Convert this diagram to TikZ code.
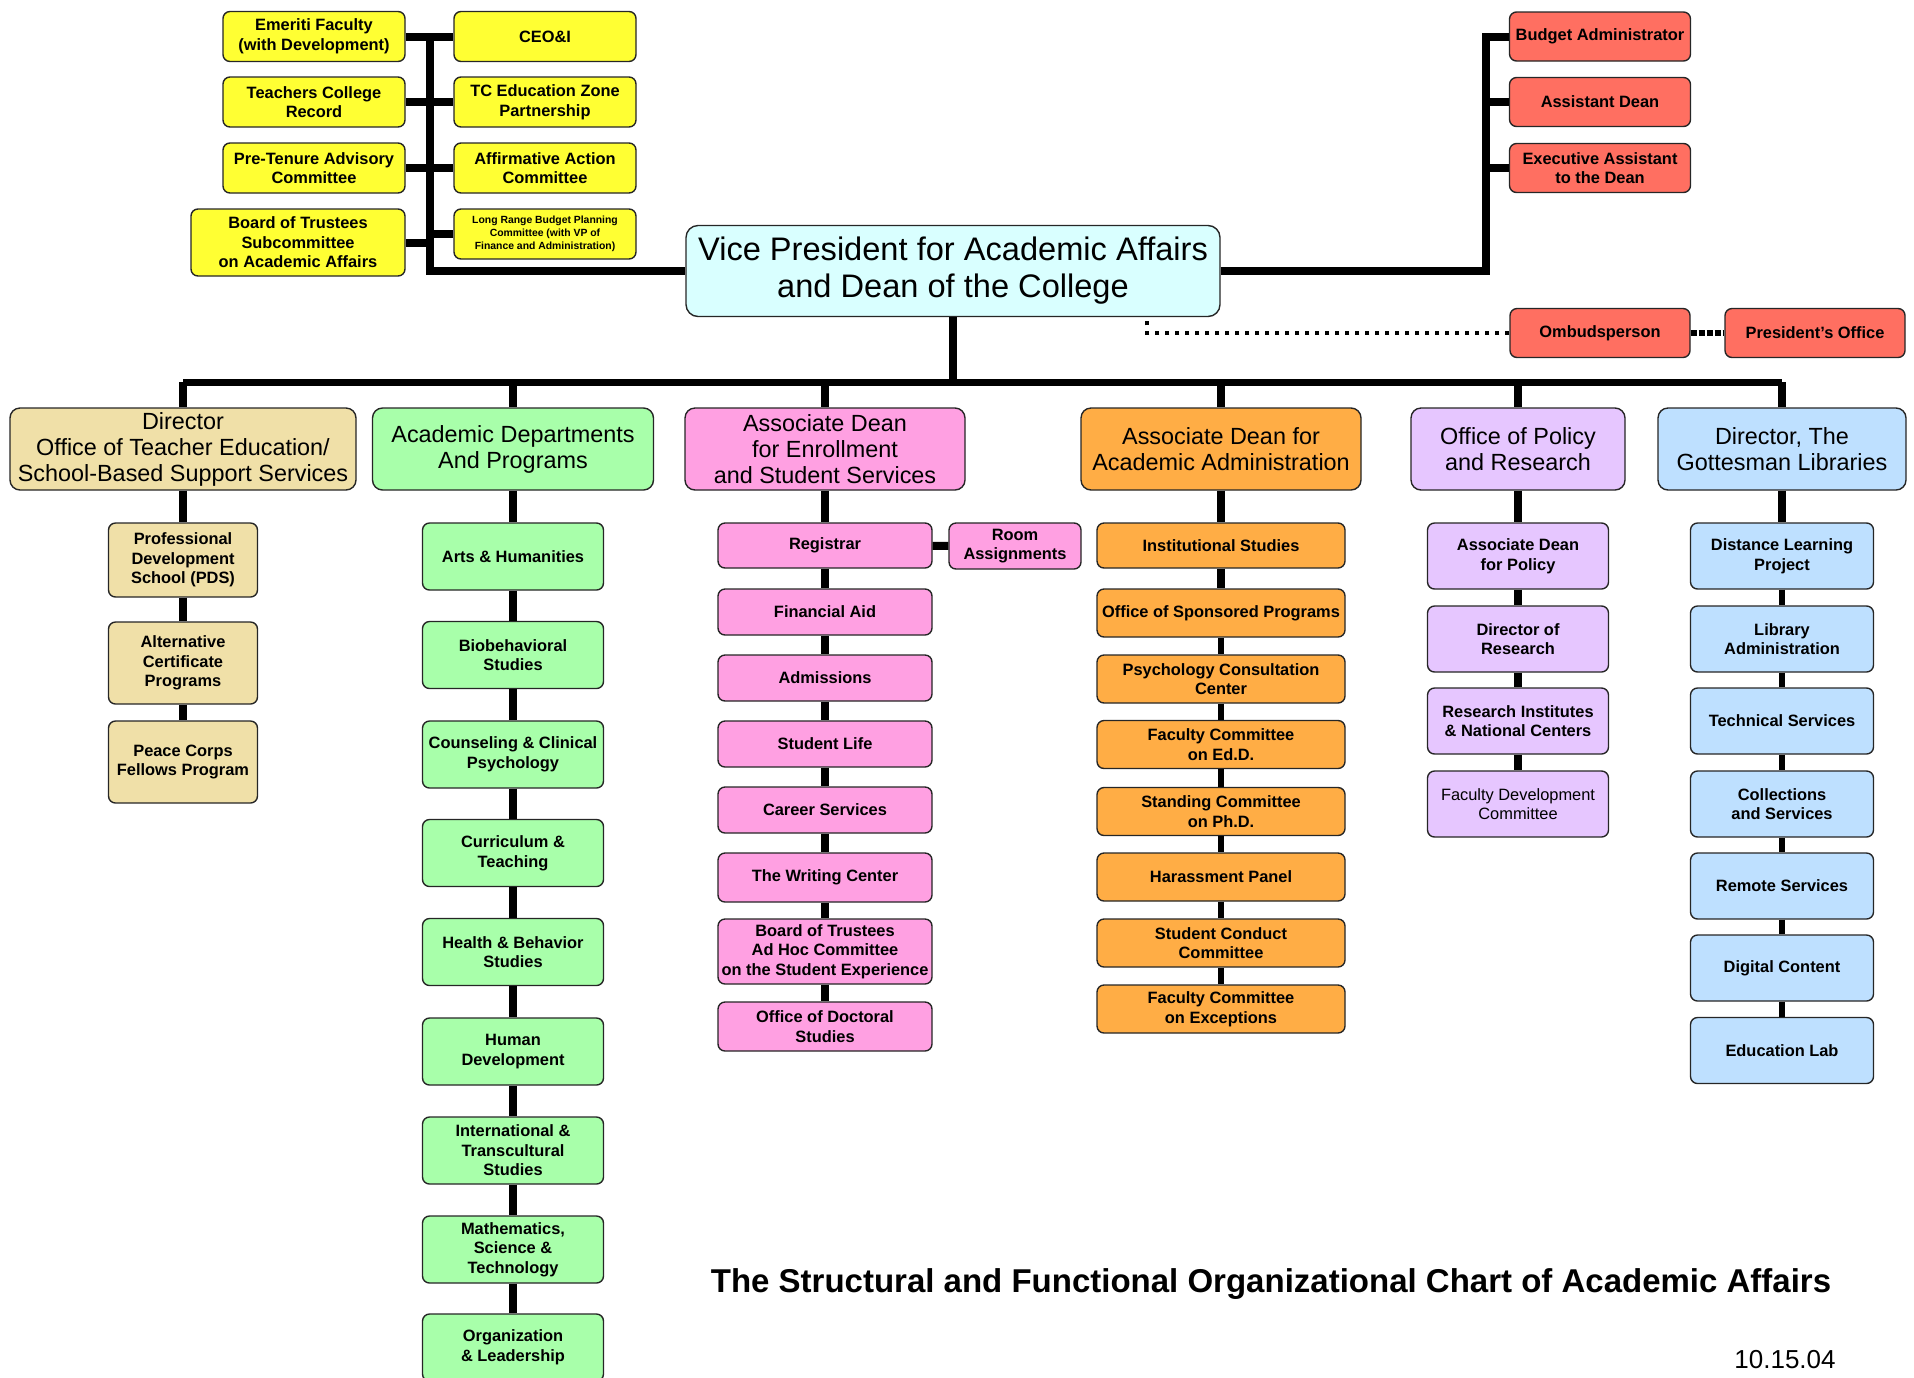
\documentclass[tikz,border=0pt]{standalone}
\usepackage{fontspec}
\setmainfont{Liberation Sans}
\usetikzlibrary{positioning}
\definecolor{boxyellow}{HTML}{FFFF33}
\definecolor{boxred}{HTML}{FF6F61}
\definecolor{boxcyan}{HTML}{D9FFFF}
\definecolor{boxtan}{HTML}{F0E0A8}
\definecolor{boxgreen}{HTML}{A8FFAA}
\definecolor{boxpink}{HTML}{FFA0E2}
\definecolor{boxorange}{HTML}{FFAD45}
\definecolor{boxpurple}{HTML}{E6C6FF}
\definecolor{boxblue}{HTML}{BEE0FF}

\begin{document}
\begin{tikzpicture}[x=0.5pt, y=-0.5pt,
    box/.style = {draw=black!85, line width=0.7pt, rounded corners=3.5pt, align=center,
      inner sep=1pt, font=\fontsize{8.2}{9.8}\selectfont\bfseries},
    head/.style = {box, rounded corners=5pt, minimum height=41pt, font=\fontsize{11.7}{13}\selectfont},
    yelbox/.style = {box, fill=boxyellow, minimum width=91pt, minimum height=25pt},
    redbox/.style = {box, fill=boxred, minimum width=90.5pt, minimum height=24.5pt},
    tanbox/.style = {box, fill=boxtan, minimum width=74.5pt, minimum height=41pt},
    grnbox/.style = {box, fill=boxgreen, minimum width=90.5pt, minimum height=33.5pt},
    pnkbox/.style = {box, fill=boxpink, minimum width=107pt, minimum height=23pt},
    orgbox/.style = {box, fill=boxorange, minimum width=124pt, minimum height=24pt},
    purbox/.style = {box, fill=boxpurple, minimum width=90.5pt, minimum height=33pt},
    blubox/.style = {box, fill=boxblue, minimum width=91.5pt, minimum height=33pt},
    link/.style = {line width=4pt},
    thinlink/.style = {line width=2.6pt},
    dotlink/.style = {line width=1.8pt, dash pattern=on 2pt off 3pt}]

    \useasboundingbox (0,0) rectangle (1914,1377);
    \clip (0,0) rectangle (1914,1377);

    % committees reporting to the VP
    \node[yelbox] (emeriti) at (314,36.5) {Emeriti Faculty\\(with Development)};
    \node[yelbox] (ceoi) at (545,36.5) {CEO\&I};
    \node[yelbox] (tcrecord) at (314,102) {Teachers College\\Record};
    \node[yelbox] (tczone) at (545,102) {TC Education Zone\\Partnership};
    \node[yelbox] (pretenure) at (314,168) {Pre-Tenure Advisory\\Committee};
    \node[yelbox] (affirm) at (545,168) {Affirmative Action\\Committee};
    \node[yelbox, minimum width=107pt, minimum height=33.5pt] (botsub) at (298,242.5) {Board of Trustees\\Subcommittee\\on Academic Affairs};
    \node[yelbox, font=\fontsize{5.2}{6.5}\selectfont\bfseries] (lrbudget) at (545,234) {Long Range Budget Planning\\Committee (with VP of\\Finance and Administration)};

    \node[box, fill=boxcyan, rounded corners=6pt, minimum width=267pt, minimum height=45.5pt,
      font=\fontsize{16.3}{18.5}\selectfont] (vp) at (953,271) {Vice President for Academic Affairs\\and Dean of the College};

    % staff
    \node[redbox] (budget) at (1600,36.5) {Budget Administrator};
    \node[redbox] (asstdean) at (1600,102) {Assistant Dean};
    \node[redbox] (execasst) at (1600,168) {Executive Assistant\\to the Dean};
    \node[redbox, minimum width=90pt] (ombud) at (1600,333) {Ombudsperson};
    \node[redbox, minimum width=90pt] (presoff) at (1815,333) {President's Office};

    \coordinate (ytop) at (430,36.5);
    \coordinate (ybot) at (430,271);
    \coordinate (rtop) at (1486,36.5);
    \coordinate (rbot) at (1486,271);
    \coordinate (dotc) at (1147,333);
    \coordinate (bus) at (953,382);

    % second level
    \node[head, fill=boxtan, minimum width=173pt] (tanhead) at (183,449) {Director\\Office of Teacher Education/\\School-Based Support Services};
    \node[head, fill=boxgreen, minimum width=140.5pt] (greenhead) at (513,449) {Academic Departments\\And Programs};
    \node[head, fill=boxpink, minimum width=140pt] (pinkhead) at (825,449) {Associate Dean\\for Enrollment\\and Student Services};
    \node[head, fill=boxorange, minimum width=140pt] (orangehead) at (1221,449) {Associate Dean for\\Academic Administration};
    \node[head, fill=boxpurple, minimum width=107pt] (purplehead) at (1518,449) {Office of Policy\\and Research};
    \node[head, fill=boxblue, minimum width=124pt] (bluehead) at (1782,449) {Director, The\\Gottesman Libraries};

    % teacher education
    \node[tanbox, minimum height=37pt] (pds) at (183,560) {Professional\\Development\\School (PDS)};
    \node[tanbox] (altcert) at (183,663) {Alternative\\Certificate\\Programs};
    \node[tanbox] (peace) at (183,762) {Peace Corps\\Fellows Program};

    % departments
    \node[grnbox] (arts) at (513,556.5) {Arts \& Humanities};
    \node[grnbox] (biobeh) at (513,655) {Biobehavioral\\Studies};
    \node[grnbox] (counsel) at (513,754.5) {Counseling \& Clinical\\Psychology};
    \node[grnbox] (curric) at (513,853) {Curriculum \&\\Teaching};
    \node[grnbox] (health) at (513,952) {Health \& Behavior\\Studies};
    \node[grnbox] (humandev) at (513,1051.5) {Human\\Development};
    \node[grnbox] (intl) at (513,1150.5) {International \&\\Transcultural\\Studies};
    \node[grnbox] (math) at (513,1249.5) {Mathematics,\\Science \&\\Technology};
    \node[grnbox] (orgl) at (513,1347.5) {Organization\\\& Leadership};

    % enrollment
    \node[pnkbox, minimum height=22.5pt] (registrar) at (825,545.5) {Registrar};
    \node[pnkbox, minimum width=66pt] (room) at (1015,546) {Room\\Assignments};
    \node[pnkbox] (finaid) at (825,612) {Financial Aid};
    \node[pnkbox] (admiss) at (825,678) {Admissions};
    \node[pnkbox] (stulife) at (825,744) {Student Life};
    \node[pnkbox] (career) at (825,810) {Career Services};
    \node[pnkbox, minimum height=24.5pt] (writing) at (825,877.5) {The Writing Center};
    \node[pnkbox, minimum height=32.5pt] (bothoc) at (825,951.5) {Board of Trustees\\Ad Hoc Committee\\on the Student Experience};
    \node[pnkbox, minimum height=24.5pt] (doctoral) at (825,1026.5) {Office of Doctoral\\Studies};

    % academic administration
    \node[orgbox, minimum height=22.5pt] (instit) at (1221,545.5) {Institutional Studies};
    \node[orgbox] (sponsored) at (1221,613) {Office of Sponsored Programs};
    \node[orgbox] (psych) at (1221,679) {Psychology Consultation\\Center};
    \node[orgbox] (faced) at (1221,744.5) {Faculty Committee\\on Ed.D.};
    \node[orgbox] (standing) at (1221,811.5) {Standing Committee\\on Ph.D.};
    \node[orgbox] (harass) at (1221,877) {Harassment Panel};
    \node[orgbox] (conduct) at (1221,943) {Student Conduct\\Committee};
    \node[orgbox] (exceptions) at (1221,1009) {Faculty Committee\\on Exceptions};

    % policy and research
    \node[purbox] (adpolicy) at (1518,556) {Associate Dean\\for Policy};
    \node[purbox] (dirres) at (1518,639) {Director of\\Research};
    \node[purbox] (resinst) at (1518,721) {Research Institutes\\\& National Centers};
    \node[purbox, font=\fontsize{8.2}{9.8}\selectfont] (facdev) at (1518,804) {Faculty Development\\Committee};

    % libraries
    \node[blubox] (distance) at (1782,556) {Distance Learning\\Project};
    \node[blubox] (libadmin) at (1782,639) {Library\\Administration};
    \node[blubox] (technical) at (1782,721) {Technical Services};
    \node[blubox] (collect) at (1782,804) {Collections\\and Services};
    \node[blubox] (remote) at (1782,886) {Remote Services};
    \node[blubox] (digital) at (1782,968) {Digital Content};
    \node[blubox] (edlab) at (1782,1050.5) {Education Lab};

    \node[font=\fontsize{16.5}{20}\selectfont\bfseries, anchor=base] (title) at (1271,1292) {The Structural and Functional Organizational Chart of Academic Affairs};
    \node[font=\fontsize{13}{15}\selectfont, anchor=base] (date) at (1785,1368) {10.15.04};

    % connectors
    \draw[link] (emeriti) -- (ceoi);
    \draw[link] (tcrecord) -- (tczone);
    \draw[link] (pretenure) -- (affirm);
    \draw[link] (botsub) -- (botsub -| ytop);
    \draw[link] (lrbudget) -- (lrbudget -| ytop);
    \draw[link] (ytop) -- (ybot) -- (vp);
    \draw[link] (vp) -- (rbot) -- (rtop) -- (budget);
    \draw[link] (asstdean) -- (asstdean -| rtop);
    \draw[link] (execasst) -- (execasst -| rtop);
    \draw[dotlink] (ombud) -- (dotc) -- (dotc |- vp.south);
    \draw[line width=3pt, dash pattern=on 3pt off 1pt] (ombud) -- (presoff);

    \draw[link] (vp) -- (bus);
    \draw[line width=3.5pt] (tanhead |- bus) -- (bluehead |- bus);
    \draw[link] (tanhead |- bus) -- (tanhead) -- (pds) -- (altcert) -- (peace);
    \draw[link] (greenhead |- bus) -- (greenhead) -- (arts) -- (biobeh) -- (counsel) -- (curric)
      -- (health) -- (humandev) -- (intl) -- (math) -- (orgl);
    \draw[link] (pinkhead |- bus) -- (pinkhead) -- (registrar) -- (finaid) -- (admiss) -- (stulife)
      -- (career) -- (writing) -- (bothoc) -- (doctoral);
    \draw[link] (registrar) -- (room);
    \draw[link] (orangehead |- bus) -- (orangehead) -- (instit) -- (sponsored);
    \draw[thinlink] (sponsored) -- (psych) -- (faced) -- (standing) -- (harass) -- (conduct) -- (exceptions);
    \draw[link] (purplehead |- bus) -- (purplehead) -- (adpolicy) -- (dirres) -- (resinst) -- (facdev);
    \draw[link] (bluehead |- bus) -- (bluehead) -- (distance);
    \draw[thinlink] (distance) -- (libadmin) -- (technical) -- (collect) -- (remote) -- (digital) -- (edlab);
\end{tikzpicture}
\end{document}
